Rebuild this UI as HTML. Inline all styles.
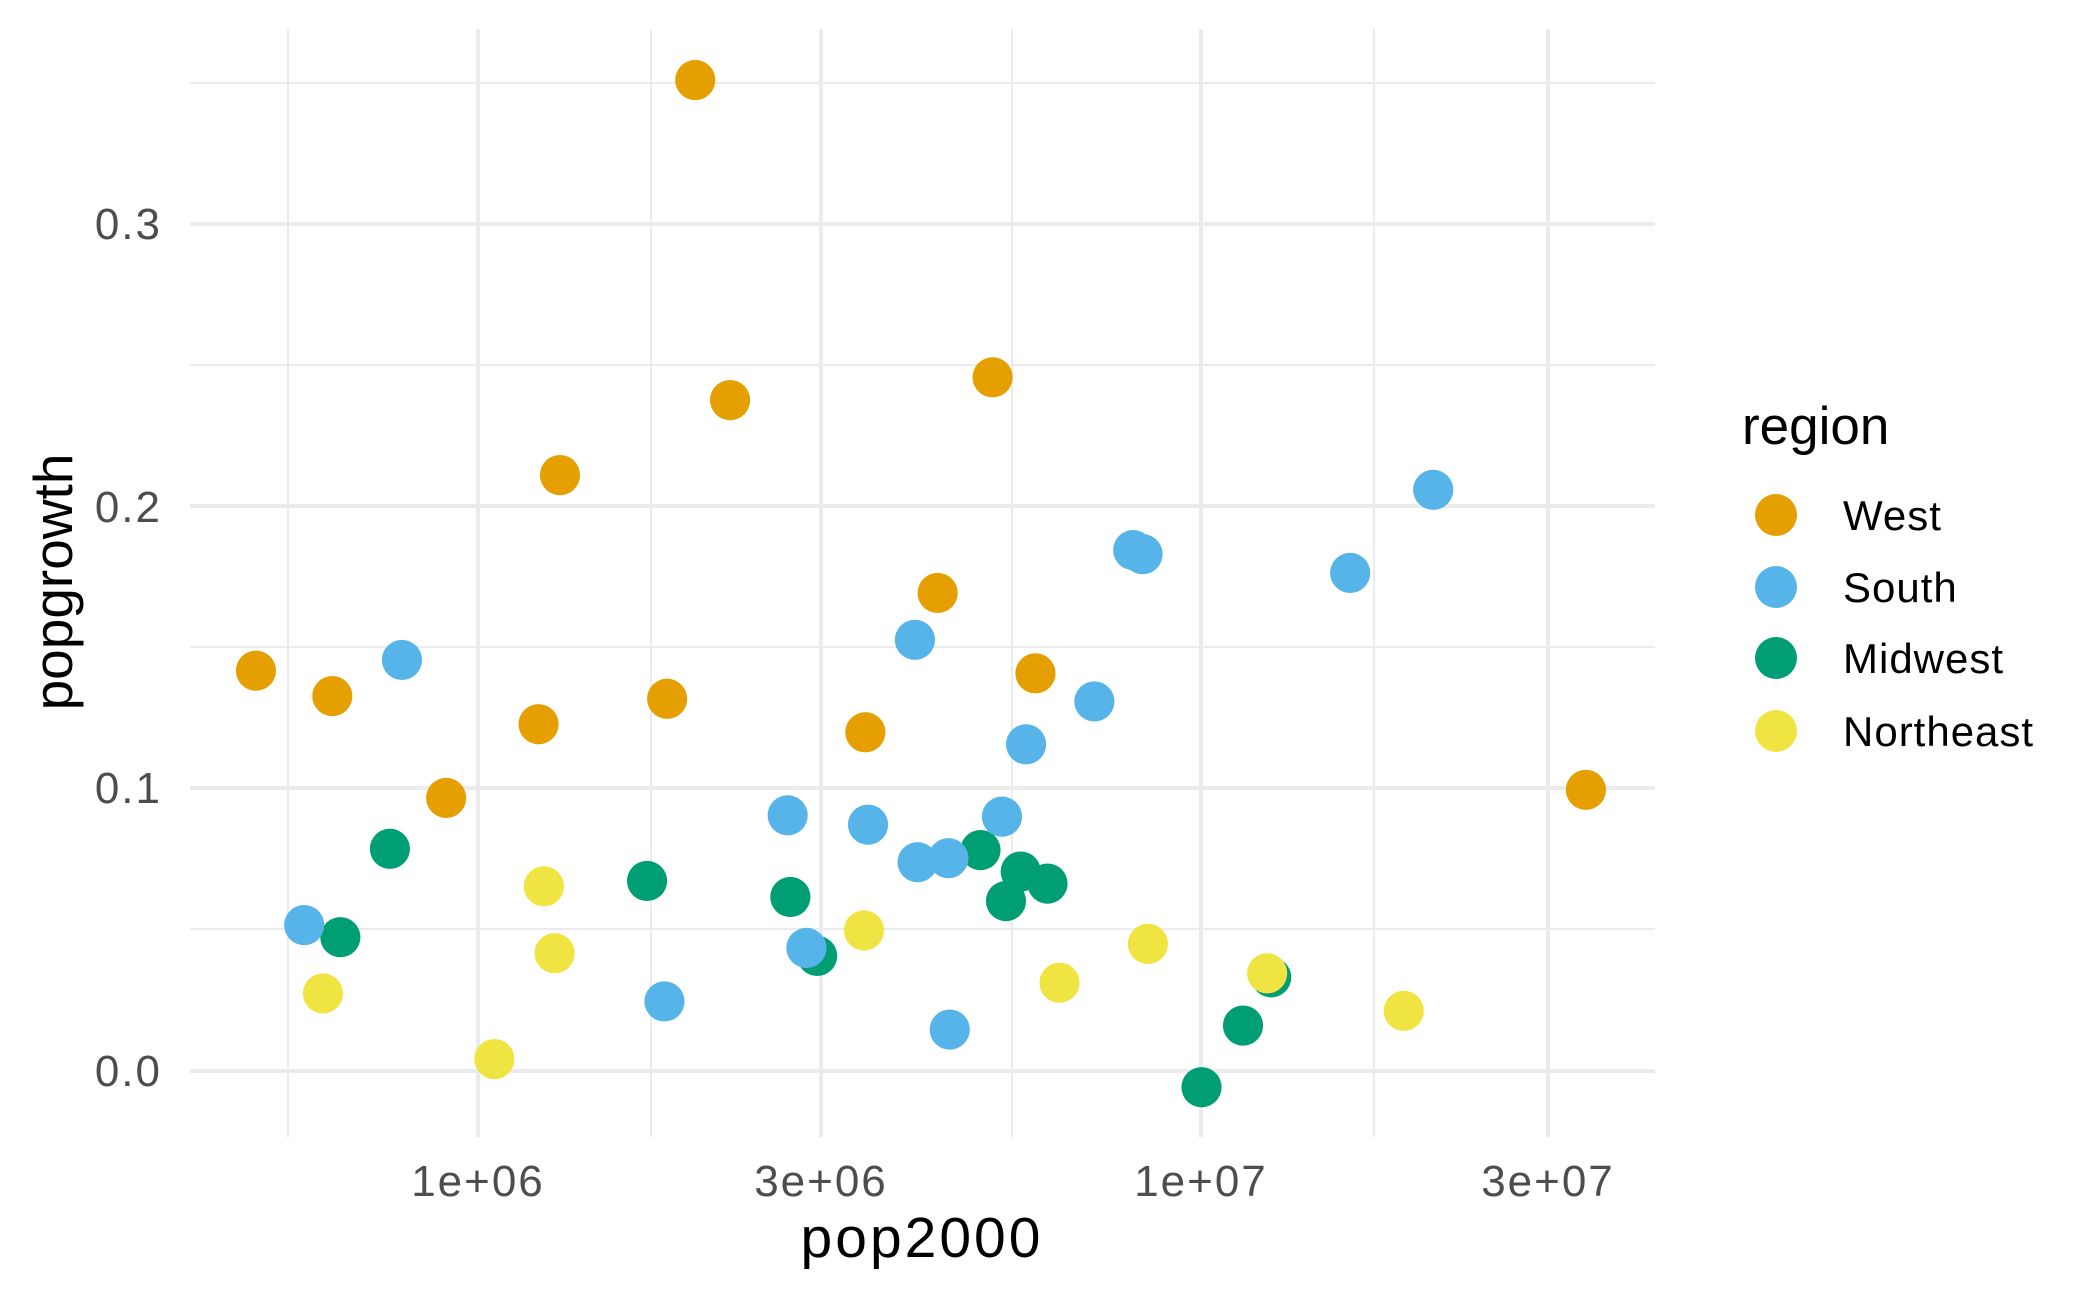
<!DOCTYPE html>
<html><head><meta charset="utf-8"><style>body{margin:0;background:#fff}svg{display:block}</style></head><body>
<svg width="2100" height="1297" xmlns="http://www.w3.org/2000/svg" font-family="Liberation Sans, sans-serif">
<rect width="2100" height="1297" fill="#fff"/>
<g stroke="#ebebeb" stroke-width="2">
<line x1="190" x2="1655" y1="929" y2="929"/><line x1="190" x2="1655" y1="647" y2="647"/><line x1="190" x2="1655" y1="365" y2="365"/><line x1="190" x2="1655" y1="83" y2="83"/>
<line x1="288" x2="288" y1="29" y2="1137"/><line x1="651" x2="651" y1="29" y2="1137"/><line x1="1012" x2="1012" y1="29" y2="1137"/><line x1="1374" x2="1374" y1="29" y2="1137"/>
</g>
<g stroke="#ebebeb" stroke-width="4">
<line x1="190" x2="1655" y1="1071" y2="1071"/><line x1="190" x2="1655" y1="788" y2="788"/><line x1="190" x2="1655" y1="506" y2="506"/><line x1="190" x2="1655" y1="224" y2="224"/>
<line x1="478" x2="478" y1="29" y2="1137"/><line x1="821" x2="821" y1="29" y2="1137"/><line x1="1201" x2="1201" y1="29" y2="1137"/><line x1="1548" x2="1548" y1="29" y2="1137"/>
</g>
<g fill="#4d4d4d" font-size="44" text-anchor="end" letter-spacing="2">
<text x="162" y="1086">0.0</text><text x="162" y="803">0.1</text><text x="162" y="522">0.2</text><text x="162" y="239">0.3</text>
</g>
<g fill="#4d4d4d" font-size="44" text-anchor="middle" letter-spacing="2">
<text x="478" y="1196">1e+06</text><text x="821" y="1196">3e+06</text><text x="1201" y="1196">1e+07</text><text x="1548" y="1196">3e+07</text>
</g>
<text x="922" y="1257" font-size="57" text-anchor="middle" letter-spacing="3">pop2000</text>
<text transform="translate(72,582) rotate(-90)" font-size="55" text-anchor="middle">popgrowth</text>
<g transform="translate(1.5,1) scale(1.3393)">
<g fill="#009E73">
<circle cx="290" cy="633" r="15"/><circle cx="253" cy="699" r="15"/><circle cx="482" cy="657" r="15"/><circle cx="589" cy="669" r="15"/><circle cx="609" cy="713" r="15"/><circle cx="731" cy="634" r="15"/><circle cx="761" cy="650" r="15"/><circle cx="781" cy="659" r="15"/><circle cx="750" cy="672" r="15"/><circle cx="896" cy="811" r="15"/><circle cx="927" cy="765" r="15"/><circle cx="948" cy="729" r="15"/>
</g>
<g fill="#56B4E9">
<circle cx="299" cy="492" r="15"/><circle cx="682" cy="477" r="15"/><circle cx="845" cy="410" r="15"/><circle cx="852" cy="413" r="15"/><circle cx="1007" cy="427" r="15"/><circle cx="1069" cy="365" r="15"/><circle cx="816" cy="523" r="15"/><circle cx="765" cy="555" r="15"/><circle cx="587" cy="608" r="15"/><circle cx="647" cy="615" r="15"/><circle cx="747" cy="609" r="15"/><circle cx="684" cy="643" r="15"/><circle cx="707" cy="640" r="15"/><circle cx="226" cy="690" r="15"/><circle cx="601" cy="707" r="15"/><circle cx="495" cy="747" r="15"/><circle cx="708" cy="768" r="15"/>
</g>
<g fill="#E69F00">
<circle cx="518" cy="59" r="15"/><circle cx="544" cy="298" r="15"/><circle cx="740" cy="281" r="15"/><circle cx="417" cy="354" r="15"/><circle cx="699" cy="442" r="15"/><circle cx="190" cy="500" r="15"/><circle cx="247" cy="519" r="15"/><circle cx="401" cy="540" r="15"/><circle cx="497" cy="521" r="15"/><circle cx="772" cy="502" r="15"/><circle cx="645" cy="546" r="15"/><circle cx="332" cy="595" r="15"/><circle cx="1183" cy="589" r="15"/>
</g>
<g fill="#F0E442">
<circle cx="405" cy="661" r="15"/><circle cx="413" cy="711" r="15"/><circle cx="240" cy="741" r="15"/><circle cx="368" cy="790" r="15"/><circle cx="644" cy="694" r="15"/><circle cx="790" cy="733" r="15"/><circle cx="856" cy="704" r="15"/><circle cx="945" cy="726" r="15"/><circle cx="1047" cy="754" r="15"/>
</g>
</g>
<text x="1742" y="444" font-size="53">region</text>
<circle cx="1776" cy="515" r="21" fill="#E69F00"/><circle cx="1776" cy="587" r="21" fill="#56B4E9"/><circle cx="1776" cy="658" r="21" fill="#009E73"/><circle cx="1776" cy="731" r="21" fill="#F0E442"/>
<g font-size="42" letter-spacing="1">
<text x="1843" y="530">West</text><text x="1843" y="602">South</text><text x="1843" y="673">Midwest</text><text x="1843" y="746">Northeast</text>
</g>
</svg>
</body></html>
